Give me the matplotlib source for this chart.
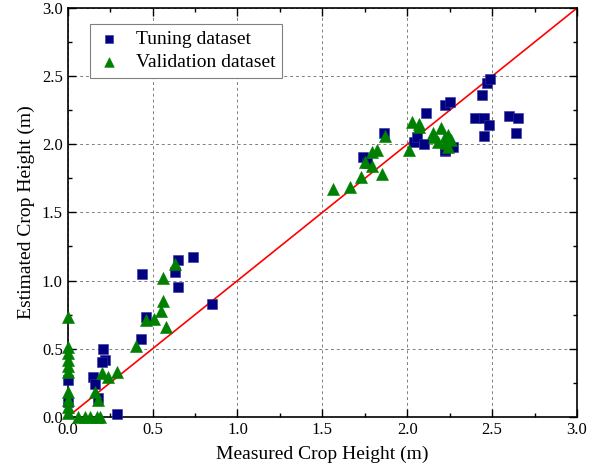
import numpy as np
import matplotlib
matplotlib.use('Agg')
import matplotlib.pyplot as plt
import matplotlib.ticker as ticker

plt.rcParams['font.family'] = ['Liberation Serif', 'DejaVu Serif']

# tuning dataset (measured, estimated)
tune_x = [0.0, 0.0, 0.15, 0.16, 0.18, 0.21, 0.22, 0.2, 0.29,
          0.43, 0.44, 0.46, 0.63, 0.65, 0.65, 0.74, 0.85,
          1.74, 1.76, 1.86, 2.04, 2.06, 2.10, 2.11, 2.22, 2.22, 2.25, 2.27,
          2.40, 2.44, 2.45, 2.45, 2.47, 2.48, 2.49, 2.60, 2.64, 2.65, 2.22]
tune_y = [0.27, 0.11, 0.29, 0.24, 0.14, 0.50, 0.42, 0.40, 0.02,
          0.57, 1.05, 0.73, 1.06, 1.15, 0.95, 1.17, 0.83,
          1.91, 1.86, 2.08, 2.02, 2.05, 2.00, 2.23, 2.29, 1.95, 2.31, 1.98,
          2.19, 2.36, 2.19, 2.06, 2.45, 2.14, 2.48, 2.21, 2.08, 2.19, 1.96]

# validation dataset
val_x = [0.0, 0.0, 0.0, 0.0, 0.0, 0.0, 0.0, 0.0, 0.0, 0.0,
         0.06, 0.1, 0.13, 0.17, 0.19,
         0.16, 0.18, 0.2, 0.24, 0.29,
         0.40, 0.46, 0.51, 0.55, 0.56, 0.56, 0.58, 0.63,
         1.56, 1.66, 1.73, 1.75, 1.79, 1.79, 1.82, 1.85, 1.87,
         2.01, 2.03, 2.07, 2.07, 2.15, 2.16, 2.18, 2.20, 2.22, 2.23, 2.24, 2.24, 2.26]
val_y = [0.73, 0.51, 0.47, 0.42, 0.37, 0.33, 0.18, 0.12, 0.07, 0.03,
         0.0, 0.0, 0.0, 0.0, 0.0,
         0.18, 0.12, 0.32, 0.29, 0.33,
         0.52, 0.71, 0.72, 0.78, 0.85, 1.02, 0.66, 1.12,
         1.67, 1.69, 1.76, 1.87, 1.84, 1.94, 1.96, 1.78, 2.06,
         1.96, 2.16, 2.15, 2.13, 2.08, 2.05, 2.02, 2.12, 2.05, 2.01, 2.07, 1.98, 2.03]

fig = plt.figure(figsize=(6.1, 4.71), dpi=100)
ax = fig.add_axes([0.111, 0.115, 0.835, 0.868])

ax.plot([0, 3], [0, 3], color='red', linewidth=1.2, zorder=2)
ax.scatter(tune_x, tune_y, marker='s', s=55, color='#000080', edgecolors='#3030a0',
           linewidths=0.4, label='Tuning dataset', zorder=3, clip_on=False)
ax.scatter(val_x, val_y, marker='^', s=75, color='#008000', edgecolors='#008000',
           linewidths=0.4, label='Validation dataset', zorder=4, clip_on=False)

ax.set_xlim(0, 3)
ax.set_ylim(0, 3)
ax.xaxis.set_major_locator(ticker.MultipleLocator(0.5))
ax.yaxis.set_major_locator(ticker.MultipleLocator(0.5))
ax.xaxis.set_minor_locator(ticker.MultipleLocator(0.25))
ax.yaxis.set_minor_locator(ticker.MultipleLocator(0.25))
ax.xaxis.set_major_formatter(ticker.FormatStrFormatter('%.1f'))
ax.yaxis.set_major_formatter(ticker.FormatStrFormatter('%.1f'))
ax.tick_params(which='both', direction='in', top=True, right=True, labelsize=12)
ax.tick_params(which='major', length=6, width=1)
ax.tick_params(which='minor', length=3, width=1)
ax.grid(True, which='major', linestyle=(0, (3, 3)), color='#808080', linewidth=0.7)
for sp in ax.spines.values():
    sp.set_linewidth(1.2)

ax.set_xlabel('Measured Crop Height (m)', fontsize=14, labelpad=6)
ax.set_ylabel('Estimated Crop Height (m)', fontsize=14, labelpad=5)

leg = ax.legend(loc='upper left', bbox_to_anchor=(0.025, 0.985), fontsize=14,
                fancybox=False, edgecolor='#808080', framealpha=1,
                handlelength=1.2, handletextpad=0.8, borderpad=0.35,
                labelspacing=0.25, markerscale=0.8)
leg.get_frame().set_linewidth(0.8)

fig.savefig('out.png', dpi=100)
